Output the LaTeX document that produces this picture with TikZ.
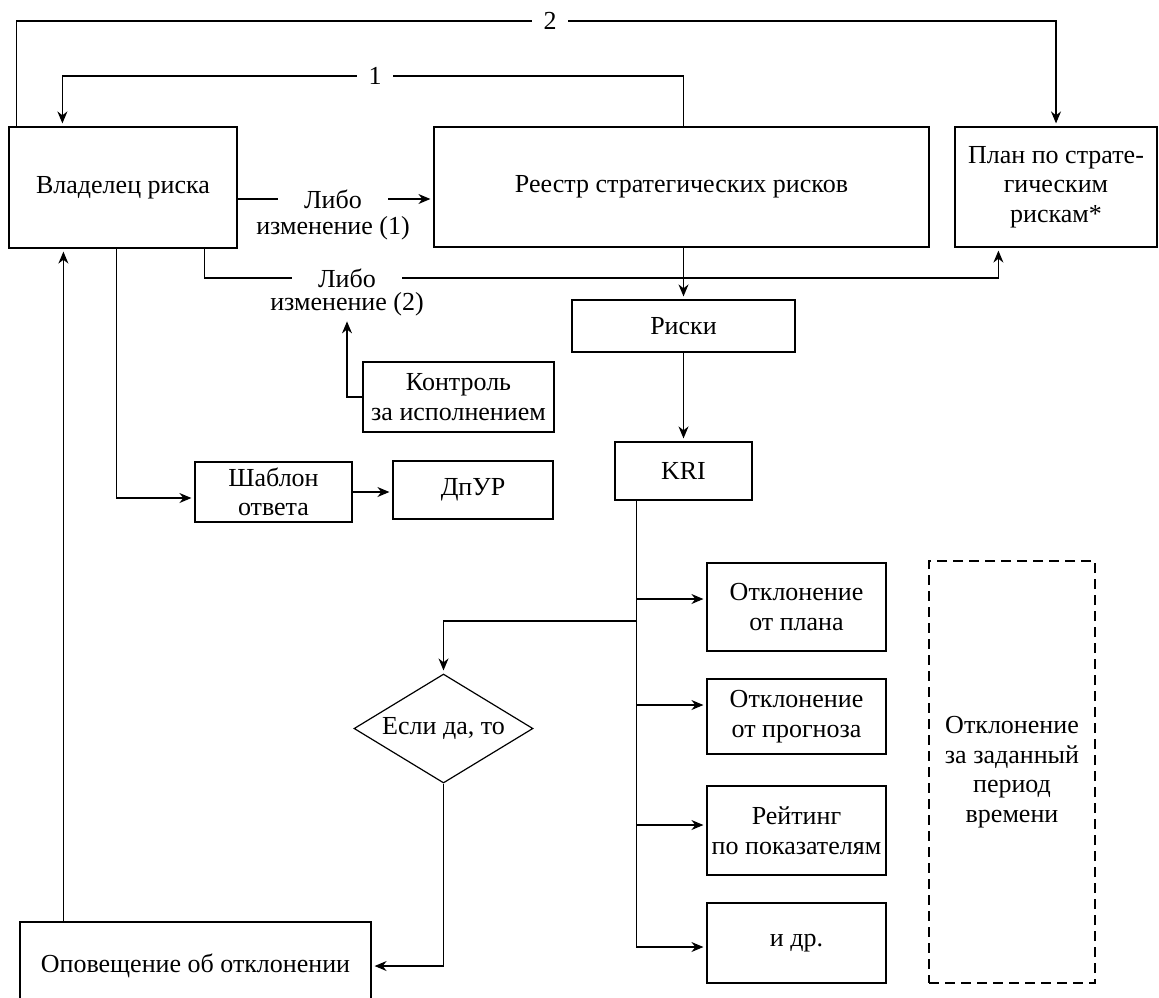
\documentclass[tikz,border=0pt]{standalone}
\usepackage{fontspec}
\setmainfont{Liberation Serif}
\usetikzlibrary{arrows.meta,shapes.geometric}

\tikzset{
  blk/.style={draw, align=center, inner sep=1.5pt, font=\fontsize{13}{14.75}\selectfont},
  txt/.style={align=center, inner sep=1pt, font=\fontsize{13}{14.75}\selectfont},
  gaplbl/.style={txt, inner xsep=13pt},
  numlbl/.style={txt, inner xsep=5.5pt},
  arr/.style={-{Stealth[length=6pt,width=5pt]}, shorten >=1.5pt},
}

\begin{document}
\begin{tikzpicture}[x=0.5pt, y=-0.5pt, line width=0.6pt]
  \useasboundingbox (0,0) rectangle (1159,997);
  \clip (0,0) rectangle (1159,997);

  % top row
  \node[blk, minimum width=114pt, minimum height=60.5pt] (vlad) at (123,187.5) {Владелец риска};
  \node[blk, minimum width=247.5pt, minimum height=60pt] (reestr) at (681.5,187) {Реестр стратегических рисков};
  \node[blk, minimum width=101pt, minimum height=60pt] (plan) at (1056,187) {План по страте-\\гическим\\рискам*};

  % middle column
  \node[blk, minimum width=111.5pt, minimum height=26pt] (riski) at (683.5,326) {Риски};
  \node[blk, minimum width=68.5pt, minimum height=29pt] (kri) at (683.5,471) {KRI};
  \node[blk, minimum width=95.5pt, minimum height=35pt] (kontrol) at (458.5,397) {Контроль\\за исполнением};
  \node[blk, minimum width=78.5pt, minimum height=30pt] (shablon) at (273.5,492) {Шаблон\\ответа};
  \node[blk, minimum width=80pt, minimum height=29pt] (dpur) at (473,490) {ДпУР};

  % deviations
  \node[blk, minimum width=89.5pt, minimum height=44pt] (otkl1) at (796.5,607) {Отклонение\\от плана};
  \node[blk, minimum width=89.5pt, minimum height=37.5pt] (otkl2) at (796.5,716.5) {Отклонение\\от прогноза};
  \node[blk, minimum width=89.5pt, minimum height=44.5pt] (reiting) at (796.5,830.5) {Рейтинг\\по показателям};
  \node[blk, minimum width=89.5pt, minimum height=40pt] (idr) at (796.5,943) {и др.};
  \node[blk, dash pattern=on 5pt off 3pt, minimum width=83pt, minimum height=211pt] (period) at (1012,772) {Отклонение\\за заданный\\период\\времени};

  \node[blk, diamond, aspect=1.64, inner sep=0pt, minimum width=89.5pt, minimum height=54.5pt] (esli) at (443.5,728.5) {Если да, то};
  \node[blk, minimum width=175.5pt, minimum height=44pt] (opov) at (195.5,966) {Оповещение об отклонении};

  % labels on lines
  \node[numlbl] (n2) at (550,21) {2};
  \node[numlbl] (n1) at (375,76) {1};
  \node[gaplbl] (l1a) at (333,199) {Либо};
  \node[txt] (l1b) at (333,228) {изменение (1)};
  \node[gaplbl] (l2a) at (347,278) {Либо};
  \node[txt] (l2b) at (347,304) {изменение (2)};

  % feedback loops
  \draw ([xshift=4pt]vlad.north west) |- (n2.west);
  \draw[arr] (n2.east) -| (plan.north);
  \draw ([xshift=1pt]reestr.north) |- (n1.east);
  \draw[arr] (n1.west) -| ([xshift=27pt]vlad.north west);

  % changes
  \draw (vlad.east |- l1a) -- (l1a.west);
  \draw[arr] (l1a.east) -- (l1a.east -| reestr.west);
  \draw ([xshift=98pt]vlad.south west) |- (l2a.west);
  \draw[arr] (l2a.east) -| ([xshift=22pt]plan.south west);
  \draw[arr] (kontrol.west) -| (l2b.south);

  \draw[arr] (reestr.south -| riski.north) -- (riski.north);
  \draw[arr] (riski.south) -- (riski.south |- kri.north);

  \draw[arr] ([xshift=54pt]vlad.south west) |- ([yshift=-3pt]shablon.west);
  \draw[arr] (shablon.east) -- (shablon.east -| dpur.west);

  % KRI branches
  \coordinate (t1) at (637,599);
  \coordinate (t2) at (637,705);
  \coordinate (t3) at (637,825);
  \coordinate (t4) at (637,947);
  \coordinate (tb) at (637,621);
  \draw[arr] ([xshift=11pt]kri.south west) |- (t4 -| idr.west);
  \foreach \t/\b in {t1/otkl1, t2/otkl2, t3/reiting}
    \draw[arr] (\t) -- (\t -| \b.west);
  \draw[arr] (tb) -| (esli.north);
  \draw[arr] (esli.south) |- (opov.east);
  \draw[arr] ([xshift=22pt]opov.north west) -- ([xshift=22pt]opov.north west |- vlad.south);
\end{tikzpicture}
\end{document}
